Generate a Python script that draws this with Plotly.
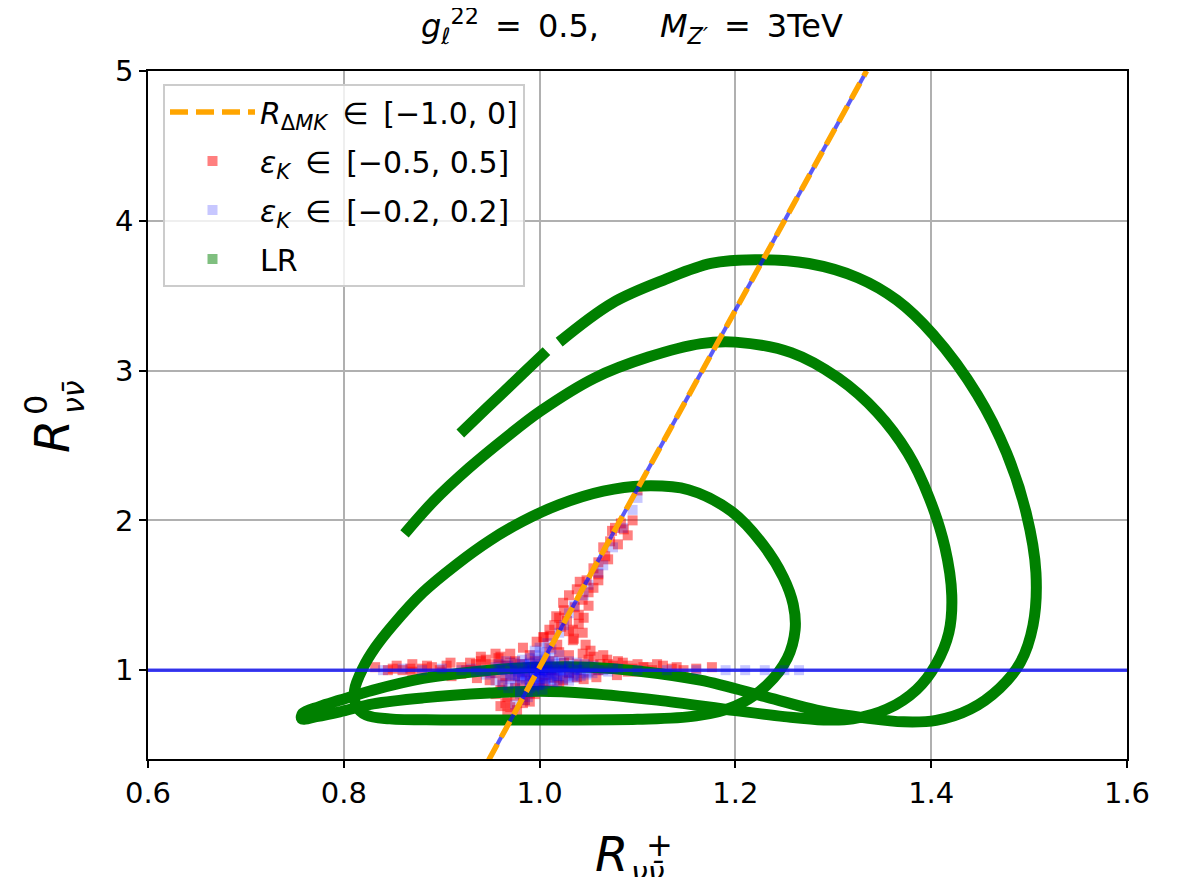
import plotly.graph_objects as go

# ---------------- data ----------------
x_ticks = [0.6, 0.8, 1.0, 1.2, 1.4, 1.6]
x_tick_labels = ["0.6", "0.8", "1.0", "1.2", "1.4", "1.6"]
y_ticks = [1, 2, 3, 4, 5]
y_tick_labels = ["1", "2", "3", "4", "5"]

# R_{Delta M_K} line
dmk_x = [0.948, 1.334]
dmk_y = [0.40, 5.00]

# horizontal blue line
h_x = [0.6, 1.6]
h_y = [1.0, 1.0]

# LR inner loop
lr_inner_x = [0.823, 0.813, 0.811, 0.820, 0.832, 0.850, 0.881, 0.915, 0.949, 0.983, 1.020, 1.065,
              1.105, 1.152, 1.196, 1.228, 1.249, 1.259, 1.261, 1.253, 1.232, 1.200, 1.160, 1.100,
              1.000, 0.900, 0.847, 0.823]
lr_inner_y = [0.700, 0.760, 0.867, 1.020, 1.150, 1.300, 1.520, 1.705, 1.865, 1.995, 2.105, 2.195,
              2.230, 2.205, 2.060, 1.840, 1.620, 1.440, 1.270, 1.080, 0.900, 0.760, 0.695, 0.672,
              0.668, 0.668, 0.675, 0.700]

# LR outer curve (middle arc -> tip -> outer arc)
lr_outer_x = [0.862, 0.892, 0.928, 0.965, 1.001, 1.056, 1.111, 1.165, 1.200, 1.257, 1.305, 1.345,
              1.376, 1.398, 1.414, 1.421, 1.418, 1.405, 1.385, 1.355, 1.320, 1.290, 1.250, 1.200, 1.120,
              1.051, 1.000, 0.949, 0.881, 0.830, 0.796, 0.772, 0.757, 0.758, 0.775, 0.796, 0.830,
              0.881, 0.949, 1.000, 1.051, 1.100, 1.164, 1.232, 1.283, 1.334, 1.372, 1.405, 1.440,
              1.470, 1.491, 1.504, 1.507, 1.497, 1.477, 1.447, 1.402, 1.365, 1.325, 1.275, 1.220,
              1.175, 1.129, 1.074, 1.020]
lr_outer_y = [1.910, 2.130, 2.350, 2.550, 2.730, 2.950, 3.090, 3.180, 3.190, 3.120, 2.950, 2.720,
              2.450, 2.150, 1.820, 1.500, 1.250, 1.040, 0.870, 0.740, 0.675, 0.668, 0.690, 0.730, 0.800,
              0.845, 0.860, 0.847, 0.815, 0.775, 0.722, 0.690, 0.675, 0.712, 0.757, 0.800, 0.867,
              0.945, 1.000, 1.020, 1.020, 0.995, 0.933, 0.820, 0.733, 0.680, 0.655, 0.665, 0.740,
              0.880, 1.050, 1.300, 1.650, 2.050, 2.450, 2.840, 3.240, 3.470, 3.620, 3.715, 3.740,
              3.715, 3.610, 3.450, 3.190]

# short separated end of the outer arc
lr_end_x = [1.007, 0.983, 0.946, 0.919]
lr_end_y = [3.130, 2.980, 2.750, 2.580]

# eps_K in [-0.5, 0.5] (red)
eps5_x = [1.077, 1.086, 1.072, 1.080, 1.067, 1.070, 1.048, 1.041, 1.038, 1.050, 1.030, 1.044,
          1.024, 1.036, 1.040, 1.017, 1.028, 1.040, 1.022, 1.034, 1.011, 1.004, 1.035, 1.047,
          0.997, 1.018, 1.100, 1.074, 1.083, 1.060, 1.055,
          0.832, 0.845, 0.854, 0.868, 0.885, 0.898, 0.909, 0.920, 0.929, 0.940, 0.950, 0.958,
          0.970, 0.975, 0.983, 0.990, 1.004, 1.010, 1.020, 1.034, 1.030, 1.044, 1.050, 1.055,
          1.062, 1.069, 1.075, 1.085, 1.095, 1.106, 1.115, 1.126, 1.147, 1.176,
          0.936, 0.949, 0.962, 0.975, 0.990, 1.004, 1.015, 1.024, 1.038, 1.058, 1.079, 0.955,
          0.985, 1.030, 0.920, 0.900, 0.870, 1.010, 0.965, 1.045,
          0.960, 0.967, 0.990, 0.983, 0.970, 0.977, 0.967, 0.985, 0.975,
          0.930, 0.945, 0.960, 0.965, 0.980, 0.995, 1.000, 1.005, 1.012, 1.025, 1.040, 1.060,
          1.070, 1.090, 1.100, 0.910, 0.890, 0.860, 0.850, 1.135, 1.160, 0.995, 1.010, 0.980,
          1.020, 1.052, 1.065, 0.940, 0.955,
          1.020, 1.030, 1.045, 1.050, 1.055, 1.060, 1.025, 1.015, 1.060, 1.065, 1.090, 1.095,
          1.044, 1.010, 0.955, 0.965, 0.990, 0.975, 0.960,
          0.870, 0.880, 0.905, 0.925, 0.935, 0.945, 0.960, 0.970,
          1.070, 1.080, 1.090, 1.110, 1.120, 1.140, 1.100]
eps5_y = [1.950, 1.940, 1.860, 1.840, 1.760, 1.740, 1.600, 1.590, 1.540, 1.520, 1.500, 1.470,
          1.450, 1.420, 1.370, 1.360, 1.330, 1.310, 1.290, 1.270, 1.230, 1.220, 1.210, 1.170,
          1.190, 1.170, 2.200, 1.930, 1.980, 1.640, 1.680,
          1.020, 1.000, 1.030, 1.010, 1.030, 1.000, 1.050, 1.020, 1.050, 1.060, 1.040, 1.080,
          1.110, 1.060, 1.150, 1.100, 1.220, 1.150, 1.120, 1.200, 1.100, 1.110, 1.070, 1.090,
          1.040, 1.070, 1.030, 1.050, 1.010, 1.020, 1.000, 1.030, 1.000, 1.020,
          0.947, 0.933, 0.913, 0.960, 0.930, 0.913, 0.950, 0.933, 0.953, 0.953, 0.967, 0.980,
          0.990, 0.980, 0.975, 0.985, 0.990, 1.060, 1.030, 0.940,
          0.867, 0.820, 0.847, 0.780, 0.753, 0.733, 0.713, 0.800, 0.880,
          1.000, 0.990, 1.030, 0.960, 1.040, 1.060, 0.880, 0.970, 1.000, 1.050, 1.040, 1.000,
          1.010, 0.990, 1.040, 0.960, 1.020, 1.000, 1.010, 1.010, 1.010, 0.840, 0.870, 0.900,
          0.900, 1.130, 1.100, 1.090, 1.110,
          1.350, 1.260, 1.350, 1.430, 1.550, 1.600, 1.400, 1.300, 1.720, 1.820, 1.900, 2.000,
          1.250, 1.270, 0.840, 0.780, 0.790, 0.830, 0.760,
          1.040, 1.010, 1.030, 1.000, 1.040, 1.070, 1.090, 1.050,
          1.040, 1.060, 1.030, 1.020, 1.040, 1.020, 0.990]

# eps_K in [-0.2, 0.2] (blue)
eps2_x = [0.950, 0.960, 0.970, 0.975, 0.980, 0.985, 0.990, 0.995, 1.000, 1.000, 1.005, 1.010,
          1.015, 1.020, 1.025, 1.030, 1.035, 1.040, 1.045, 1.050, 0.990, 0.995, 1.005, 1.010,
          1.000, 0.990, 0.980, 1.000, 0.997, 1.003, 0.993, 1.008, 0.965, 0.955, 1.055, 1.060,
          0.940, 0.930, 0.920, 0.998, 1.002, 0.996, 1.004, 0.988, 1.012, 0.985, 1.015, 0.978,
          1.022, 0.972, 1.028, 1.000, 0.994, 1.006,
          0.975, 0.982, 0.988, 0.992, 0.996, 1.000, 1.004, 1.008, 1.012, 1.018, 1.024, 1.030,
          0.970, 0.978, 0.986, 0.994, 1.002, 1.010, 1.018, 1.026, 1.034, 0.984, 0.992, 1.000,
          1.008, 1.016, 0.990, 0.998, 1.006, 1.014, 0.962, 1.038, 0.968, 1.044,
          0.955, 0.962, 0.968, 0.975, 0.982, 0.988, 0.994, 1.000, 1.006, 1.012, 1.018, 1.024,
          1.030, 1.036, 1.042, 1.048, 1.054, 0.958, 0.966, 0.974, 0.982, 0.990, 0.998, 1.006,
          1.014, 1.022, 1.030, 1.038, 1.046, 1.000, 1.008, 0.995, 1.012, 1.020, 0.980, 0.988,
          0.995, 1.003, 0.975, 0.985, 0.996, 1.006, 1.016, 1.026, 1.036, 0.945, 0.935, 1.065,
          1.070, 1.075,
          1.020, 1.025, 1.030, 1.035, 1.045, 1.050, 1.060, 1.065, 1.075, 1.085, 1.095, 1.100,
          0.975, 0.985,
          0.840, 0.860, 0.880, 0.900, 1.080, 1.100, 1.130, 1.160, 1.190, 1.210, 1.230, 1.250,
          1.265]
eps2_y = [0.980, 1.000, 0.970, 1.020, 0.950, 1.000, 0.920, 0.980, 1.000, 0.950, 1.050, 0.980,
          1.020, 0.960, 1.000, 1.030, 0.970, 1.000, 1.020, 0.990, 1.050, 1.100, 1.120, 1.080,
          0.900, 0.880, 0.860, 1.000, 0.970, 1.020, 1.010, 0.990, 0.950, 1.020, 1.030, 1.000,
          1.000, 1.010, 1.000, 1.000, 0.990, 1.030, 0.960, 0.990, 1.010, 1.040, 0.970, 0.990,
          1.000, 1.010, 0.990, 1.060, 0.930, 1.080,
          1.000, 0.980, 1.020, 0.960, 1.000, 0.980, 1.010, 0.970, 1.000, 0.990, 1.010, 0.985,
          0.940, 0.960, 0.940, 0.950, 0.940, 0.950, 0.960, 0.950, 0.960, 1.040, 1.030, 1.040,
          1.030, 1.040, 0.910, 0.900, 0.910, 0.920, 1.000, 1.000, 1.030, 0.980,
          0.930, 0.900, 0.880, 0.910, 0.930, 0.960, 0.890, 0.920, 0.940, 0.930, 0.920, 0.940,
          0.930, 0.950, 0.960, 0.970, 0.980, 1.040, 1.060, 1.050, 1.070, 1.080, 1.070, 1.090,
          1.060, 1.050, 1.060, 1.050, 1.040, 1.150, 1.180, 1.130, 1.140, 1.100, 0.840, 0.820,
          0.860, 0.870, 0.970, 0.970, 1.020, 1.000, 0.990, 1.020, 1.010, 0.970, 0.990, 1.000,
          0.990, 1.010,
          1.250, 1.300, 1.380, 1.430, 1.500, 1.570, 1.650, 1.700, 1.820, 1.950, 2.070, 2.150,
          0.770, 0.800,
          1.000, 1.010, 1.000, 1.010, 1.010, 1.000, 1.000, 1.000, 1.000, 1.000, 1.000, 1.000,
          1.000]

# ---------------- figure ----------------
GREEN = "#008000"
FONT = "DejaVu Sans"

# the page body has an 8px margin: plot area should sit at px (148..1127, 71..759) of the window
OFF = 8
L, T, PW, PH = 148 - OFF, 71 - OFF, 979, 688
FIG_W, FIG_H = 1166, 869

fig = go.Figure()

fig.add_trace(go.Scatter(x=eps5_x, y=eps5_y, mode="markers", name="<i>ε</i><sub><i>K</i></sub>\u2002∈\u2002[−0.5, 0.5]",
                         marker=dict(symbol="square", size=10, color="red", opacity=0.5, line=dict(width=0)),
                         legendrank=2, legendgroup="a2"))
for xs, ys in [(lr_inner_x, lr_inner_y), (lr_outer_x, lr_outer_y), (lr_end_x, lr_end_y)]:
    fig.add_trace(go.Scatter(x=xs, y=ys, mode="lines", showlegend=False,
                             line=dict(color=GREEN, width=11, shape="spline", smoothing=1.0)))
fig.add_trace(go.Scatter(x=eps2_x, y=eps2_y, mode="markers", name="<i>ε</i><sub><i>K</i></sub>\u2002∈\u2002[−0.2, 0.2]",
                         marker=dict(symbol="square", size=10, color="blue", opacity=0.22, line=dict(width=0)),
                         legendrank=3, legendgroup="a3"))
fig.add_trace(go.Scatter(x=[None], y=[None], mode="markers", name="LR",
                         marker=dict(symbol="square", size=10, color=GREEN, opacity=0.5, line=dict(width=0)),
                         legendrank=4, legendgroup="a4"))
fig.add_trace(go.Scatter(x=h_x, y=h_y, mode="lines", showlegend=False,
                         line=dict(color="rgba(20,20,245,0.8)", width=3.5)))
fig.add_trace(go.Scatter(x=dmk_x, y=dmk_y, mode="lines", showlegend=False,
                         line=dict(color="rgba(20,20,245,0.7)", width=4)))
fig.add_trace(go.Scatter(x=dmk_x, y=dmk_y, mode="lines",
                         name="<i>R</i><sub>Δ<i>M</i><i>K</i></sub>\u2002∈\u2002[−1.0, 0]",
                         line=dict(color="orange", width=5.5, dash="18px,8px"),
                         legendrank=1, legendgroup="a1"))

axis_common = dict(showgrid=True, gridcolor="#b0b0b0", gridwidth=1.6, showline=True, linecolor="black",
                   linewidth=1.6, mirror=True, ticks="outside", ticklen=7, tickwidth=1.6,
                   tickcolor="black", zeroline=False, tickfont=dict(family=FONT, size=29, color="black"))

fig.update_layout(
    width=FIG_W, height=FIG_H,
    margin=dict(l=L, r=FIG_W - L - PW, t=T, b=FIG_H - T - PH, autoexpand=False),
    plot_bgcolor="white", paper_bgcolor="white",
    font=dict(family=FONT, color="black"),
    xaxis=dict(range=[0.6, 1.6], tickvals=x_ticks, ticktext=x_tick_labels, **axis_common),
    yaxis=dict(range=[0.407, 5.0], tickvals=y_ticks, ticktext=y_tick_labels, **axis_common),
    legend=dict(x=(163 - 148) / PW, y=(759 - 84) / PH, xanchor="left", yanchor="top",
                bgcolor="rgba(255,255,255,0.8)", bordercolor="#cccccc", borderwidth=2,
                font=dict(family=FONT, size=30, color="black"), itemwidth=85, tracegroupgap=7),
    showlegend=True,
)


def px2paper(px, py):
    return (px - 148) / PW, (759 - py) / PH


# title
tx, ty = px2paper(632, 26)
fig.add_annotation(xref="paper", yref="paper", x=tx, y=ty, xanchor="center", yanchor="middle", showarrow=False,
                   text="<i>g</i><sub><i>ℓ</i></sub><sup>22</sup>\u2002=\u20020.5,\u00a0\u00a0\u00a0\u00a0\u00a0\u00a0<i>M</i><sub><i>Z′</i></sub>\u2002=\u20023TeV",
                   font=dict(family=FONT, size=32, color="black"))

# x-axis title R^+_{nu nubar}
for txt, (px, py), size in [("<i>R</i>", (611, 854), 48), ("+", (659, 845), 32), ("<i>νν̄</i>", (648, 872), 30)]:
    xp, yp = px2paper(px, py)
    fig.add_annotation(xref="paper", yref="paper", x=xp, y=yp, xanchor="center", yanchor="middle",
                       showarrow=False, text=txt, font=dict(family=FONT, size=size, color="black"))

# y-axis title R^0_{nu nubar}
for txt, (px, py), size in [("<i>R</i>", (52, 437), 48), ("0", (36, 405), 32), ("<i>νν̄</i>", (74, 397), 30)]:
    xp, yp = px2paper(px, py)
    fig.add_annotation(xref="paper", yref="paper", x=xp, y=yp, xanchor="center", yanchor="middle",
                       showarrow=False, text=txt, textangle=-90, font=dict(family=FONT, size=size, color="black"))

fig.write_html("out.html")
